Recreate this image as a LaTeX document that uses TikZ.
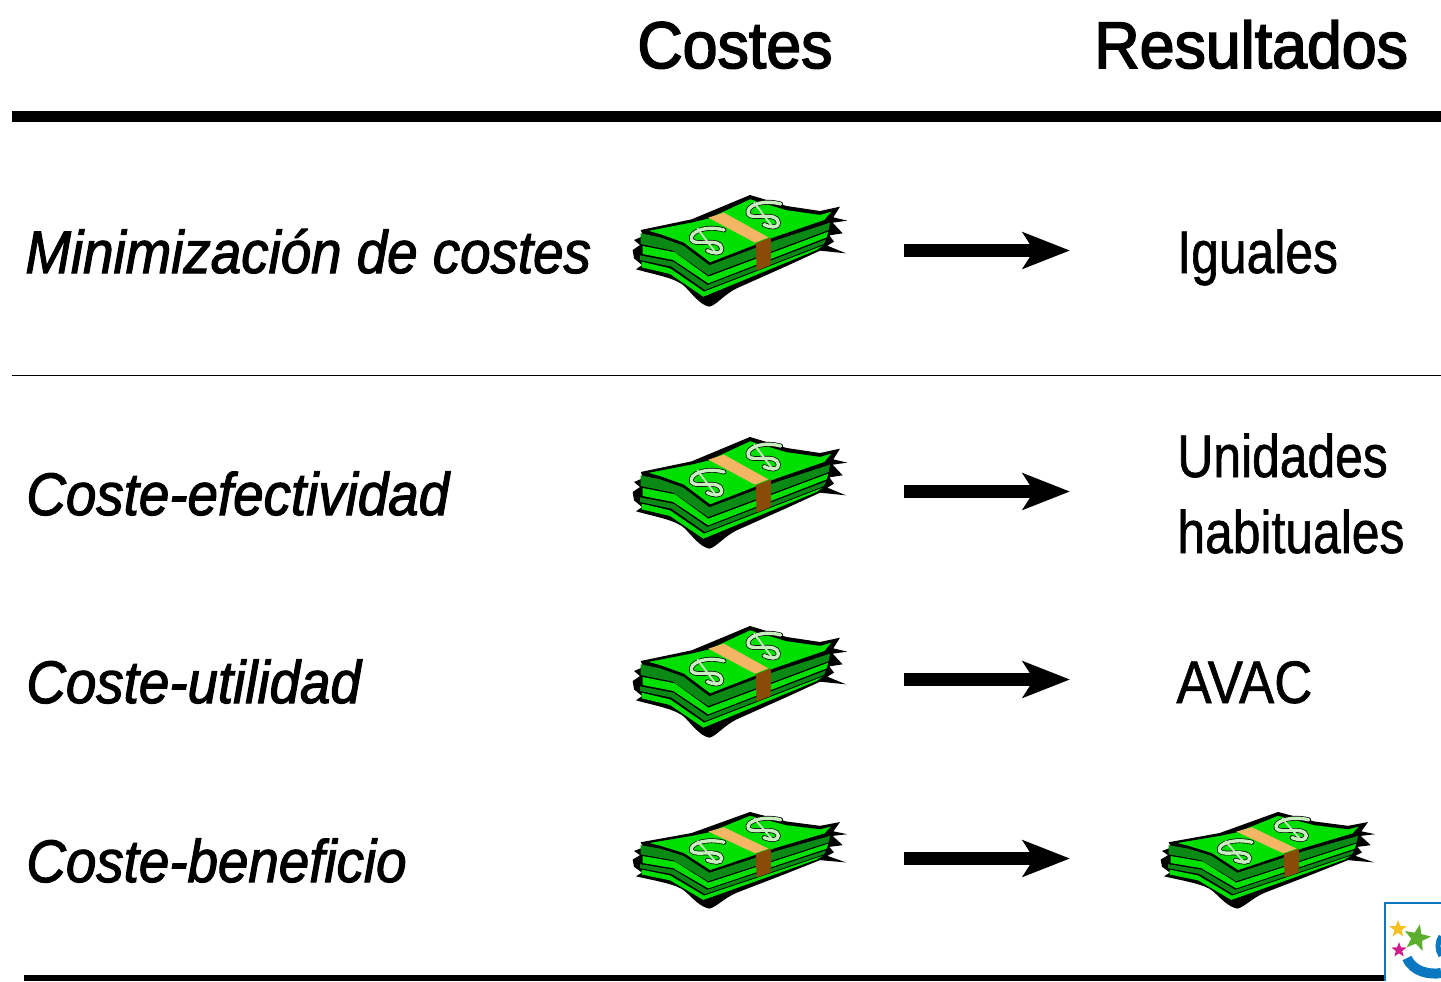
\documentclass[tikz,border=0pt]{standalone}
\usepackage{fontspec}
\usetikzlibrary{arrows.meta,shapes.geometric}
\setmainfont{Liberation Sans}
\newfontfamily\headfont[FakeStretch=.95,FakeBold=2.5]{Liberation Sans}
\newfontfamily\labfont[FakeStretch=.83,FakeBold=1]{Liberation Sans}
\newfontfamily\itfont[FakeStretch=.912,FakeBold=1.8]{Liberation Sans Italic}
\definecolor{billgreen}{HTML}{00E000}
\definecolor{billdark}{HTML}{0A8A14}
\definecolor{bandtop}{HTML}{F4B565}
\definecolor{bandside}{HTML}{8A4A08}
\definecolor{dollar}{HTML}{C8EEC0}
\definecolor{logoblue}{HTML}{0A78C0}
\definecolor{logogreen}{HTML}{5CAE2E}
\definecolor{logoyellow}{HTML}{F6BE1E}
\definecolor{logopink}{HTML}{D01C8C}
\tikzset{
  x=.5pt,y=-.5pt,
  heading/.style={anchor=base west,inner sep=0pt,font=\headfont\fontsize{33}{33}\selectfont},
  method/.style={anchor=base west,inner sep=0pt,font=\itfont\fontsize{30}{30}\selectfont},
  result/.style={anchor=base west,inner sep=0pt,font=\labfont\fontsize{30}{30}\selectfont},
  flow/.style={line width=6.5pt,-{Stealth[length=23.5pt,width=18pt,inset=5.5pt]}},
  thickrule/.style={line width=5.5pt},
  thinrule/.style={line width=.7pt},
  billout/.style={draw=black,line width=.8pt,line join=round},
  pics/money/.style={code={
    \begin{scope}[scale=1/3]
    % black silhouette
    \fill[black,line join=round] (62,150) -- (215,118) -- (390,45) -- (500,78) -- (600,93) -- (660,80) -- (640,112) -- (682,122) -- (638,128) -- (668,160) -- (628,166) -- (642,185) -- (622,197) -- (678,220) -- (600,212) -- (500,258) -- (350,325) .. controls (310,345) and (290,375) .. (268,380) .. controls (240,375) and (215,340) .. (195,320) .. controls (170,295) and (110,285) .. (48,268) -- (66,255) -- (42,235) -- (38,210) -- (60,195) -- (42,180) -- (70,168) -- cycle;
    % strata
    \fill[billdark] (62,160) -- (120,172) -- (190,197) -- (268,256) -- (470,180) -- (630,128) -- (626,150) -- (265,285) -- (160,212) -- (62,192) -- cycle;
    \fill[billgreen] (68,198) -- (165,217) -- (265,290) -- (625,155) -- (620,172) -- (265,310) -- (160,240) -- (68,222) -- cycle;
    \fill[billdark] (60,226) -- (160,245) -- (262,315) -- (618,178) -- (612,192) -- (255,330) -- (155,260) -- (60,240) -- cycle;
    \fill[billgreen] (65,245) -- (150,265) -- (252,335) -- (608,197) -- (590,210) -- (250,350) -- (150,282) -- (65,262) -- cycle;
    % top bill
    \fill[billgreen,billout] (75,152) -- (215,125) -- (265,113) -- (390,55) -- (500,88) -- (600,102) -- (642,90) -- (615,122) -- (470,172) -- (270,250) -- (190,190) -- (120,165) -- cycle;
    % band
    \fill[bandtop] (265,113) -- (312,98) -- (445,172) -- (405,188) -- cycle;
    \fill[bandside] (407,190) -- (453,172) -- (452,255) -- (410,272) -- cycle;
    % dollars
    \foreach \dx/\dy in {0/0,170/-78}{
      \begin{scope}[shift={(\dx,\dy)}]
      \draw[black,line width=2.4pt,line cap=round] (312,150) .. controls (260,135) and (205,155) .. (215,180) .. controls (225,200) and (300,170) .. (305,205) .. controls (305,225) and (280,220) .. (262,212);
      \draw[dollar,line width=1.7pt,line cap=round] (312,150) .. controls (260,135) and (205,155) .. (215,180) .. controls (225,200) and (300,170) .. (305,205) .. controls (305,225) and (280,220) .. (262,212);
      \draw[dollar,line width=.9pt] (232,145) -- (290,222);
      \end{scope}
    }
    \end{scope}
  }},
}
\begin{document}
\begin{tikzpicture}
\useasboundingbox (0,0) rectangle (1441,981);
\clip (0,0) rectangle (1441,981);
\fill[white] (0,0) rectangle (1441,981);
% headings
\node[heading] (hcost) at (637,68) {Costes};
\node[heading] (hres) at (1094,68) {Resultados};
% rules
\coordinate (r1a) at (12,116); \coordinate (r1b) at (1441,116);
\coordinate (r2a) at (12,375.5); \coordinate (r2b) at (1441,375.5);
\coordinate (r3a) at (24,978); \coordinate (r3b) at (1385,978);
\draw[thickrule] (r1a) -- (r1b);
\draw[thinrule] (r2a) -- (r2b);
\draw[line width=3.2pt] (r3a) -- (r3b);
% method labels
\node[method] (m1) at (25,273) {Minimización de costes};
\node[method] (m2) at (26,515) {Coste-efectividad};
\node[method] (m3) at (26,703) {Coste-utilidad};
\node[method] (m4) at (26,882) {Coste-beneficio};
% result labels
\node[result] (t1) at (1177,273) {Iguales};
\node[result] (t2a) at (1177,477) {Unidades};
\node[result] (t2b) at (1177,553) {habituales};
\node[result] (t3) at (1176,703) {\addfontfeature{FakeStretch=.88}AVAC};
% money
\pic (b1) at (620,180) {money};
\pic (b2) at (620,422) {money};
\pic (b3) at (620,611) {money};
\pic[yscale=.865] (b4) at (620,799) {money};
\pic[yscale=.865] (b5) at (1148,799) {money};
% arrows
\foreach \n/\yy in {1/250.5,2/491.5,3/679.5,4/858.5}{
  \coordinate (as\n) at (904,\yy);
  \coordinate (ae\n) at (1070,\yy);
  \draw[flow] (as\n) -- (ae\n);
}
% logo
\fill[white] (1385,903) rectangle (1441,981);
\draw[logoblue,line width=1pt] (1385,981) -- (1385,903) -- (1441,903);
\node[star,star points=5,star point ratio=2.4,fill=logoyellow,inner sep=0pt,minimum size=9pt] (s1) at (1398,929) {};
\node[star,star points=5,star point ratio=2.4,fill=logogreen,inner sep=0pt,minimum size=14pt,rotate=-12] (s2) at (1417,938) {};
\node[star,star points=5,star point ratio=2.4,fill=logopink,inner sep=0pt,minimum size=8pt] (s3) at (1399,950) {};
\draw[logoblue,line width=5pt] (1407,958) .. controls (1413,972) and (1430,975) .. (1441,973);
\draw[logoblue,line width=2.5pt] (1441,936) .. controls (1437,942) and (1437,950) .. (1441,956);
\end{tikzpicture}
\end{document}
